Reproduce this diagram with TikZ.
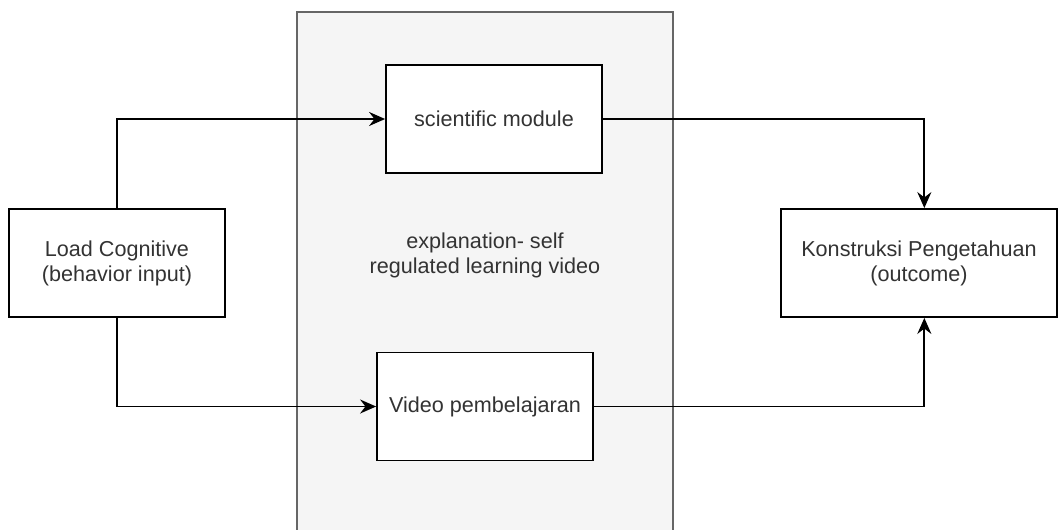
\documentclass[tikz,border=0pt]{standalone}
\usepackage{fontspec}
\setmainfont{Liberation Sans}
\usetikzlibrary{arrows.meta}
\begin{document}
\begin{tikzpicture}[x=0.75pt,y=-0.75pt,
  font=\fontsize{16.2}{18.75}\selectfont,
  box/.style={draw=black, fill=white, line width=1.35pt, text=black!80,
              align=center, inner sep=0pt, minimum width=162pt, minimum height=81pt},
  panel/.style={draw=black!60, fill=black!4, line width=1.35pt},
  link/.style={draw=black, line width=1.35pt,
               -{Stealth[length=12pt,width=10.5pt,inset=4pt]}}]
  \useasboundingbox (0,0) rectangle (1060,529);
  \clip (0,0) rectangle (1060,529);
  % shaded container for the intervention
  \draw[panel] (297,12) rectangle (673,560);
  \node[text=black!80, align=center] (srl) at (485,255)
    {explanation- self\\regulated learning video};
  % boxes
  \node[box] (lc)  at (117,263) {Load Cognitive\\(behavior input)};
  \node[box] (mod) at (494,119) {scientific module};
  \node[box] (vid) at (485,406.5) {Video pembelajaran};
  \node[box, minimum width=207pt] (kp) at (919,263)
    {Konstruksi Pengetahuan\\(outcome)};
  % connectors
  \draw[link] (lc.north) |- (mod.west);
  \draw[link] (lc.south) |- (vid.west);
  \draw[link] (mod.east) -| ([xshift=4pt]kp.north);
  \draw[link] (vid.east) -| ([xshift=4pt]kp.south);
\end{tikzpicture}
\end{document}
